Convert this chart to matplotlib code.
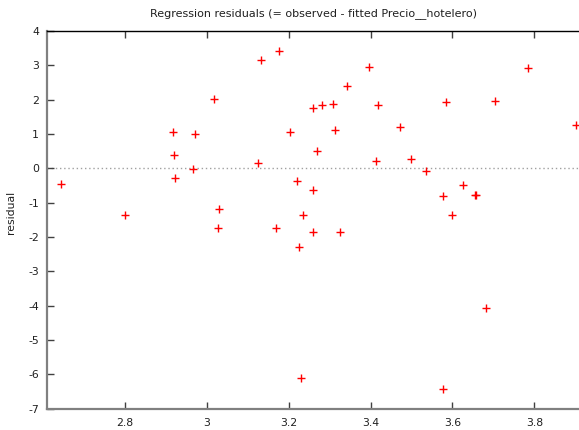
import matplotlib
matplotlib.use("Agg")
import matplotlib.pyplot as plt

# Fitted Precio__hotelero values (x) and regression residuals (y)
fitted = [2.644, 2.801, 2.917, 2.920, 2.922, 2.965, 2.972, 3.018, 3.030, 3.027,
          3.126, 3.133, 3.170, 3.177, 3.203, 3.221, 3.224, 3.231, 3.234, 3.260,
          3.260, 3.258, 3.270, 3.282, 3.308, 3.313, 3.324, 3.343, 3.396, 3.414,
          3.419, 3.472, 3.499, 3.536, 3.578, 3.584, 3.599, 3.626, 3.654, 3.658,
          3.683, 3.703, 3.785, 3.901, 3.576]
residual = [-0.457, -1.368, 1.048, 0.397, -0.290, -0.010, 0.999, 2.009, -1.194, -1.747,
            0.146, 3.160, -1.747, 3.415, 1.048, -0.370, -2.282, -6.096, -1.368, 1.765,
            -0.622, -1.863, 0.495, 1.843, 1.872, 1.106, -1.863, 2.396, 2.950, 0.204,
            1.852, 1.193, 0.280, -0.070, -0.798, 1.920, -1.368, -0.486, -0.786, -0.786,
            -4.058, 1.960, 2.910, 1.252, -6.425]

x_ticks = [2.8, 3.0, 3.2, 3.4, 3.6, 3.8]
x_tick_labels = ["2.8", "3", "3.2", "3.4", "3.6", "3.8"]
y_ticks = list(range(-7, 5))

W, H = 579, 430
fig = plt.figure(figsize=(W / 100, H / 100), dpi=100)
fig.patch.set_facecolor("white")

left_px, top_px, bottom_px = 47.3, 31.0, 408.7
ax = fig.add_axes([left_px / W, 1 - bottom_px / H, 1 - left_px / W + 0.002,
                   (bottom_px - top_px) / H])

ax.axhline(0, color="#a0a0a0", linestyle=(0, (1, 2)), linewidth=1.0, zorder=1)
ax.plot(fitted, residual, linestyle="none", marker="+", color="#ff0000",
        markersize=5.5, markeredgewidth=1.0, zorder=3)

ax.set_xlim(2.610, 3.912)
ax.set_ylim(-7, 4)

ax.set_xticks(x_ticks)
ax.set_xticklabels(x_tick_labels)
ax.set_yticks(y_ticks)
ax.set_yticklabels([str(v) for v in y_ticks])

ax.tick_params(axis="both", direction="in", length=5, width=1,
               labelsize=7.8, colors="#404040", labelcolor="#202020")
ax.tick_params(axis="x", top=True, pad=7)
ax.tick_params(axis="y", pad=6)

for side in ("left", "bottom"):
    ax.spines[side].set_color("#808080")
    ax.spines[side].set_linewidth(1.6)
ax.spines["top"].set_color("#000000")
ax.spines["top"].set_linewidth(1.0)
ax.spines["right"].set_visible(False)

ax.set_title("Regression residuals (= observed - fitted Precio__hotelero)",
             fontsize=8.0, color="#202020", pad=11)
ax.set_ylabel("residual", fontsize=7.8, color="#202020")
ax.yaxis.set_label_coords(-0.059, 0.52)

fig.savefig("out.png", dpi=100)
